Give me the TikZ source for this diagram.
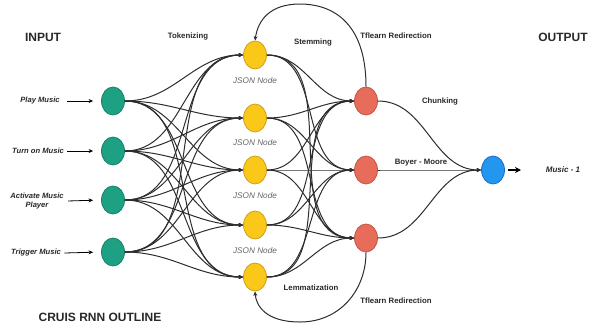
\documentclass[tikz,border=0pt]{standalone}
\usepackage{fontspec}
\setmainfont{Liberation Sans}
\usetikzlibrary{shapes.geometric,arrows.meta}
\definecolor{cgreen}{RGB}{30,160,130}
\definecolor{cgreenb}{RGB}{25,130,105}
\definecolor{cyellow}{RGB}{250,200,25}
\definecolor{cyellowb}{RGB}{205,160,30}
\definecolor{cred}{RGB}{232,108,90}
\definecolor{credb}{RGB}{195,85,70}
\definecolor{cblue}{RGB}{35,150,240}
\definecolor{cblueb}{RGB}{30,110,190}
\definecolor{cline}{RGB}{45,45,45}
\definecolor{ctext}{RGB}{40,40,40}
\begin{document}
\begin{tikzpicture}[x=1pt,y=-1pt,
  neuron/.style={ellipse,draw,line width=0.8pt,minimum width=23pt,minimum height=28pt,inner sep=0pt},
  gnode/.style={neuron,fill=cgreen,draw=cgreenb},
  ynode/.style={neuron,fill=cyellow,draw=cyellowb},
  rnode/.style={neuron,fill=cred,draw=credb},
  bnode/.style={neuron,fill=cblue,draw=cblueb},
  conn/.style={draw=cline,line width=1pt,-{Stealth[length=4.5pt,width=4pt]}},
  lbl/.style={font=\fontsize{7.8}{9}\selectfont\bfseries,text=ctext},
  ilbl/.style={font=\fontsize{7.6}{9}\selectfont\bfseries\itshape,text=ctext,align=center},
  jlbl/.style={font=\fontsize{8.2}{9}\selectfont\itshape,text=gray!80!black},
  title/.style={font=\fontsize{12}{13}\selectfont\bfseries,text=ctext},
  inarrow/.style={draw=black,line width=0.8pt,-{Stealth[length=4.5pt,width=4pt]}}
]
\useasboundingbox (0,0) rectangle (593,325);
% nodes
\node[gnode] (g1) at (113,101) {};
\node[gnode] (g2) at (113,151) {};
\node[gnode] (g3) at (113,200) {};
\node[gnode] (g4) at (113,252) {};
\node[ynode] (y1) at (255,55) {};
\node[ynode] (y2) at (255,118) {};
\node[ynode] (y3) at (255,170) {};
\node[ynode] (y4) at (255,225) {};
\node[ynode] (y5) at (255,277) {};
\node[rnode] (r1) at (366,101) {};
\node[rnode] (r2) at (366,170) {};
\node[rnode] (r3) at (366,238) {};
\node[bnode] (b1) at (493,170) {};
% connections
\foreach \g in {1,...,4}{
  \foreach \y in {1,...,5}{
    \draw[conn] (g\g.east) to[out=0,in=180] (y\y.west);
  }
}
\foreach \y in {1,...,5}{
  \foreach \r in {1,...,3}{
    \draw[conn] (y\y.east) to[out=0,in=180] (r\r.west);
  }
}
\foreach \r in {1,...,3}{
  \draw[conn] (r\r.east) to[out=0,in=180] (b1.west);
}
% loops
\draw[conn] (r1.north) .. controls (366,20) and (330,4) .. (300,4) .. controls (270,4) and (258,20) .. (y1.north);
\draw[conn] (r3.south) .. controls (366,290) and (340,322) .. (300,322) .. controls (265,322) and (256,305) .. (y5.south);
% input labels
\node[ilbl] (l1) at (40,101) {Play Music};
\node[ilbl] (l2) at (38,151) {Turn on Music};
\node[ilbl] (l3) at (37,201) {Activate Music\\Player};
\node[ilbl] (l4) at (36,253) {Trigger Music};
\draw[inarrow,shorten <=4pt,shorten >=8pt] (l1.east) -- (g1.west);
\draw[inarrow,shorten >=8pt] (l2.east) -- (g2.west);
\draw[inarrow,shorten <=1pt,shorten >=8pt] (l3.east) -- (g3.west);
\draw[inarrow,shorten >=8pt] (l4.east) -- (g4.west);
% output
\coordinate (oend) at (521,170);
\draw[draw=black,line width=1.3pt,-{Stealth[length=6pt,width=6pt]},shorten <=3pt] (b1.east) -- (oend);
\node[ilbl,font=\fontsize{8}{9}\selectfont\bfseries\itshape] (mus) at (563,170) {Music - 1};
% JSON labels
\node[jlbl] (j1) at (255,81) {JSON Node};
\node[jlbl] (j2) at (255,143) {JSON Node};
\node[jlbl] (j3) at (255,196) {JSON Node};
\node[jlbl] (j4) at (255,251) {JSON Node};
% process labels
\node[lbl] (t1) at (188,36) {Tokenizing};
\node[lbl] (t2) at (313,42) {Stemming};
\node[lbl] (t3) at (396,36) {Tflearn Redirection};
\node[lbl] (t4) at (440,101) {Chunking};
\node[lbl] (t5) at (421,163) {Boyer - Moore};
\node[lbl] (t6) at (311,288) {Lemmatization};
\node[lbl] (t7) at (396,301) {Tflearn Redirection};
% titles
\node[title] (in) at (43,37) {INPUT};
\node[title] (out) at (563,37) {OUTPUT};
\node[title] (cr) at (100,317) {CRUIS RNN OUTLINE};
\end{tikzpicture}
\end{document}
